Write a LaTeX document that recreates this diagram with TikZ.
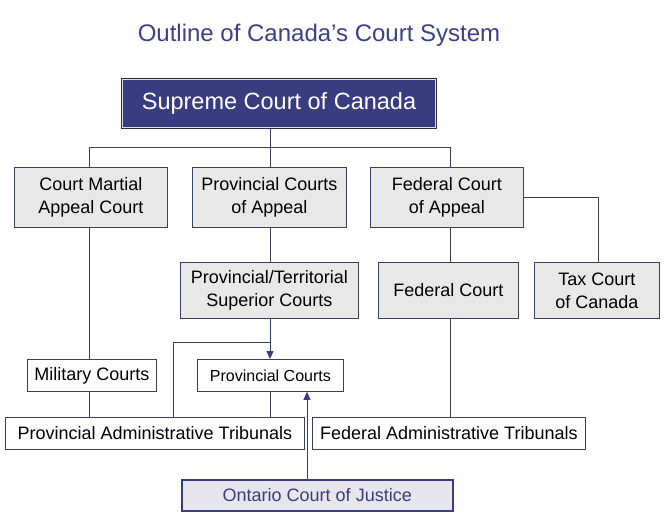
\documentclass[tikz,border=0pt]{standalone}
\usepackage{fontspec}
\setmainfont{Liberation Sans}
\usetikzlibrary{arrows.meta}
\definecolor{navy}{HTML}{3A3C80}
\definecolor{lineC}{HTML}{3C3E66}
\definecolor{boxgray}{HTML}{E8E8E8}
\definecolor{titleC}{HTML}{3D4088}
\definecolor{ojfill}{HTML}{E6E6EC}
\tikzset{
  box/.style={draw=lineC, fill=boxgray, line width=0.8pt, align=center, inner sep=0pt,
    anchor=north west, font=\fontsize{18}{23}\selectfont},
  wbox/.style={box, fill=white},
  conn/.style={draw=lineC, line width=0.8pt},
  arr/.style={conn, -{Triangle[length=8pt,width=7pt]}, navy}
}
\begin{document}
\begin{tikzpicture}[x=1pt,y=-1pt]
\useasboundingbox[fill=white] (0,0) rectangle (666,532);
\node[text=titleC, font=\fontsize{24}{28}\selectfont] (title) at (319,35) {Outline of Canada’s Court System};
% supreme
\node[box, fill=navy, draw=lineC!70!black, line width=1pt, text=white, font=\fontsize{23.5}{28}\selectfont,
  minimum width=315pt, minimum height=50pt] (sup) at (121,78) {Supreme Court of Canada};
\draw[white!75!gray, line width=0.6pt] ([shift={(1.5,1.5)}]sup.north west) rectangle ([shift={(-1.5,-1.5)}]sup.south east);
% row 1
\node[box, minimum width=153pt, minimum height=60pt] (cma) at (14,167) {Court Martial\\Appeal Court};
\node[box, minimum width=154pt, minimum height=60pt] (pca) at (192,167) {Provincial Courts\\of Appeal};
\node[box, minimum width=153pt, minimum height=60pt] (fca) at (370,167) {Federal Court\\of Appeal};
% row 2
\node[box, minimum width=178pt, minimum height=56pt] (sup2) at (180,262) {Provincial/Territorial\\Superior Courts};
\node[box, minimum width=140pt, minimum height=56pt] (fc) at (378,262) {Federal Court};
\node[box, minimum width=125pt, minimum height=56pt] (tax) at (534,262) {Tax Court\\of Canada};
% row 3
\node[wbox, minimum width=129pt, minimum height=32pt] (mil) at (27,359) {Military Courts};
\node[wbox, minimum width=146pt, minimum height=32pt, font=\fontsize{16}{20}\selectfont] (pc) at (197,359) {Provincial Courts};
% row 4
\node[wbox, minimum width=299pt, minimum height=32pt] (pat) at (5,417) {Provincial Administrative Tribunals};
\node[wbox, minimum width=273pt, minimum height=32pt] (fat) at (312,417) {Federal Administrative Tribunals};
% ontario
\node[box, fill=ojfill, draw=navy, line width=2.5pt, text=navy, minimum width=271pt, minimum height=31pt] (ocj) at (180.5,478.5) {Ontario Court of Justice};
% connectors
\coordinate (j) at (270,147);
\coordinate (br) at (173,342);
\coordinate (ax) at (307,0);
\draw[conn] (sup.south -| j) -- (j);
\draw[conn] (cma.north -| 89,0) -- (89,147) -- (450,147) -- (fca.north -| 450,0);
\draw[conn] (j) -- (pca.north -| j);
\draw[conn] (fca.east) -| (tax.north -| 598,0);
\draw[conn] (cma.south -| 89,0) -- (mil.north -| 89,0);
\draw[conn] (mil.south -| 89,0) -- (pat.north -| 89,0);
\draw[conn] (pca.south -| j) -- (sup2.north -| j);
\draw[conn] (fca.south -| 450,0) -- (fc.north -| 450,0);
\draw[conn] (fc.south -| 450,0) -- (fat.north -| 450,0);
\draw[arr] (sup2.south -| j) -- (pc.north -| j);
\draw[conn] (br -| j) -- (br) -- (pat.north -| br);
\draw[conn] (pc.south -| j) -- (pat.north -| j);
\draw[arr] (ocj.north -| ax) -- (pc.south -| ax);
\end{tikzpicture}
\end{document}
